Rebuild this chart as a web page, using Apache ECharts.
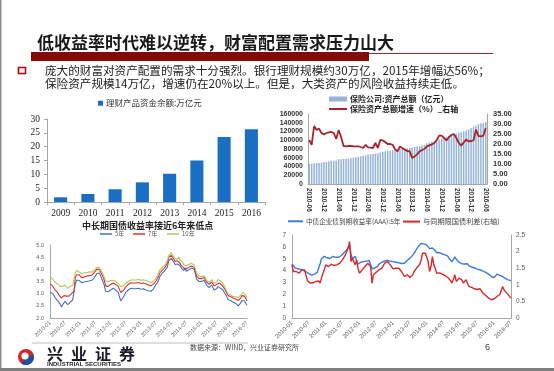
<!DOCTYPE html>
<html><head><meta charset="utf-8">
<script src="https://cdn.jsdelivr.net/npm/echarts@6/dist/echarts.min.js"></script>
<style>html,body{margin:0;padding:0;background:#fff}#c{width:554px;height:371px}</style>
</head><body><div id="c"></div><script>
// ---------- DATA ----------
const wealthYears = ['2009','2010','2011','2012','2013','2014','2015','2016'];
const wealthValues = [1.7, 2.9, 4.6, 7.1, 10.2, 15.0, 23.5, 26.3];

const insStart = [2010, 6], insEnd = [2016, 6];
const insAssets = [
  46000,46600,47200,47800,48200,48800,50500,
  51000,51600,52500,53300,53800,56500,56800,57300,57800,58300,59000,60100,
  61000,62300,63400,64300,65000,67200,67800,68400,69300,70200,71500,73500,
  75000,76200,76800,77800,78300,78600,79500,80200,80800,81600,82300,82900,
  84500,86000,87000,88500,89500,93000,95000,96500,98000,99500,101500,104000,
  106000,107500,109500,111500,113000,115000,117000,118500,120000,122500,125000,128000,
  131000,133000,137000,138500,140000,142000
];
const insGrowth = [
  22.0,19.6,29.0,27.0,27.7,25.5,24.7,
  25.5,25.8,26.0,25.5,22.5,27.0,23.5,19.0,18.8,19.0,19.0,18.8,
  18.8,18.8,18.5,18.0,19.6,18.3,18.2,18.0,20.5,18.0,22.1,21.8,
  21.0,20.0,20.0,19.6,17.4,16.3,18.8,17.8,17.2,16.5,16.3,13.0,
  13.8,14.8,16.3,17.0,17.5,18.8,19.3,19.8,20.5,22.0,24.2,24.2,
  23.0,21.8,23.5,24.5,25.0,23.0,20.5,19.2,20.8,22.2,21.3,21.5,
  21.8,27.2,24.0,23.8,24.2,28.0
];

// half-month observations, 2010-01 .. 2016-07
const bondStart = [2010, 1], bondEnd = [2016, 7];
const bond5 = [
  3.05,3.00,3.02,2.95,2.85,2.78,2.70,2.62,2.58,2.45,2.55,2.62,2.68,2.60,2.55,2.62,2.65,2.70,2.75,2.82,3.40,3.55,3.62,3.55,
  3.48,3.45,3.52,3.48,3.42,3.50,3.45,3.52,3.48,3.55,3.60,3.65,3.72,3.82,3.90,3.85,3.75,3.62,3.48,3.35,3.10,3.05,3.08,3.12,
  3.15,3.20,3.22,3.18,3.15,3.10,3.05,3.10,2.70,2.65,2.85,2.90,3.05,3.10,3.15,3.20,3.22,3.18,3.20,3.22,3.20,3.18,3.22,3.20,
  3.18,3.22,3.20,3.18,3.15,3.18,3.12,3.10,3.10,3.12,3.20,3.30,3.35,3.45,3.55,3.70,3.78,3.85,3.90,3.95,4.00,4.10,4.35,4.42,
  4.45,4.40,4.30,4.20,4.15,4.22,4.30,4.15,4.05,4.08,3.95,4.05,3.92,3.90,3.98,4.05,4.05,4.02,4.00,3.85,3.60,3.55,3.50,3.48,
  3.50,3.45,3.55,3.45,3.35,3.30,3.25,3.32,3.35,3.28,3.15,3.10,3.20,3.30,3.28,3.22,3.20,3.15,3.05,3.00,2.88,2.75,2.78,2.72,
  2.70,2.65,2.62,2.60,2.55,2.50,2.55,2.62,2.72,2.76,2.70,2.66,2.52
];
const bond7 = [
  3.40,3.35,3.32,3.25,3.15,3.10,3.05,2.95,2.92,2.82,2.88,2.92,2.98,2.90,2.85,2.90,2.95,3.00,3.05,3.10,3.65,3.78,3.85,3.78,
  3.70,3.66,3.72,3.68,3.64,3.72,3.68,3.74,3.70,3.76,3.80,3.86,3.92,4.00,4.05,4.00,3.92,3.80,3.68,3.55,3.32,3.28,3.30,3.34,
  3.38,3.42,3.44,3.40,3.38,3.34,3.30,3.32,3.05,3.00,3.12,3.16,3.28,3.32,3.38,3.42,3.45,3.42,3.44,3.46,3.44,3.42,3.46,3.44,
  3.42,3.46,3.44,3.42,3.40,3.42,3.36,3.34,3.32,3.35,3.40,3.48,3.52,3.62,3.72,3.85,3.92,3.98,4.02,4.08,4.12,4.25,4.48,4.55,
  4.58,4.52,4.42,4.32,4.28,4.35,4.40,4.25,4.15,4.18,4.05,4.12,4.02,4.00,4.08,4.12,4.14,4.10,4.08,3.95,3.72,3.66,3.62,3.60,
  3.62,3.58,3.66,3.58,3.48,3.42,3.38,3.45,3.48,3.42,3.32,3.28,3.38,3.46,3.44,3.40,3.36,3.32,3.22,3.15,3.02,2.92,2.94,2.88,
  2.86,2.82,2.80,2.78,2.76,2.72,2.75,2.82,2.92,2.96,2.90,2.86,2.70
];
const bond10 = [
  3.72,3.65,3.60,3.52,3.48,3.45,3.40,3.35,3.30,3.26,3.30,3.32,3.35,3.28,3.22,3.26,3.30,3.32,3.35,3.40,3.85,3.95,3.98,3.90,
  3.85,3.82,3.88,3.86,3.82,3.86,3.84,3.90,3.85,3.88,3.92,3.96,4.02,4.08,4.12,4.06,4.00,3.90,3.80,3.68,3.52,3.48,3.50,3.52,
  3.54,3.56,3.55,3.52,3.50,3.46,3.42,3.44,3.30,3.26,3.32,3.35,3.42,3.46,3.50,3.54,3.56,3.55,3.56,3.58,3.56,3.55,3.58,3.56,
  3.55,3.58,3.57,3.55,3.54,3.55,3.50,3.48,3.46,3.48,3.52,3.58,3.64,3.74,3.85,3.98,4.05,4.10,4.12,4.18,4.25,4.38,4.58,4.66,
  4.68,4.60,4.52,4.45,4.40,4.48,4.50,4.36,4.28,4.30,4.18,4.24,4.15,4.12,4.20,4.24,4.25,4.20,4.18,4.05,3.85,3.78,3.72,3.70,
  3.70,3.66,3.72,3.64,3.56,3.50,3.46,3.54,3.58,3.52,3.42,3.38,3.48,3.58,3.56,3.52,3.48,3.42,3.32,3.24,3.10,3.00,3.02,2.96,
  2.92,2.88,2.86,2.88,2.86,2.84,2.88,2.94,3.02,3.05,3.00,2.94,2.82
];
const aaa5 = [
  4.55,4.40,4.25,4.20,4.15,4.18,4.10,4.05,4.02,4.00,3.90,3.85,3.75,3.65,3.62,3.68,3.70,3.75,3.85,3.95,4.55,5.00,5.10,5.20,
  5.15,5.08,5.05,5.02,5.15,5.20,5.18,5.12,5.10,5.12,5.20,5.25,5.35,5.50,5.60,5.75,5.95,6.15,5.40,5.00,5.10,5.20,4.85,4.55,
  4.60,4.70,4.72,4.75,4.78,4.80,4.82,4.85,4.80,4.15,4.18,4.22,4.25,4.35,4.55,4.62,4.70,4.78,4.82,4.85,4.85,4.82,4.80,4.82,
  4.75,4.72,4.70,4.68,4.65,4.62,4.60,4.58,4.62,4.75,4.85,4.95,5.05,5.15,5.30,5.40,5.65,5.85,6.05,6.20,6.28,6.30,6.25,6.20,
  6.15,6.05,5.85,5.80,5.90,5.95,5.70,5.50,5.55,5.52,5.45,5.40,5.35,5.32,5.28,5.22,5.00,4.90,4.75,4.65,5.15,4.95,4.80,4.70,
  4.55,4.58,4.60,4.55,4.55,4.58,4.40,4.35,4.30,4.25,4.22,4.18,4.12,4.08,4.05,4.02,3.95,3.90,3.85,3.80,3.70,3.58,3.50,3.42,
  3.40,3.55,3.70,3.65,3.60,3.55,3.48,3.42,3.35,3.28,3.22,3.18,3.15
];
const spread = [
  1.60,1.40,1.42,1.40,1.38,1.35,1.40,1.45,1.42,1.45,1.40,1.12,1.08,1.05,1.02,1.06,1.05,1.10,1.15,1.12,1.05,1.20,1.35,1.45,
  1.60,1.58,1.55,1.52,1.62,1.60,1.58,1.62,1.60,1.62,1.65,1.68,1.75,1.78,1.90,1.95,2.10,2.30,1.70,1.80,1.85,1.60,1.75,1.50,
  1.35,1.40,1.45,1.50,1.55,1.58,1.65,1.62,1.55,1.05,1.30,1.32,1.38,1.40,1.45,1.48,1.50,1.55,1.65,1.62,1.70,1.68,1.60,1.55,
  1.48,1.45,1.50,1.48,1.50,1.45,1.40,1.35,1.25,1.28,1.30,1.28,1.22,1.20,1.30,1.40,1.45,1.52,1.55,1.62,1.75,1.95,1.90,1.95,
  1.98,1.70,1.40,1.55,1.85,1.60,1.50,1.35,1.38,1.36,1.38,1.32,1.30,1.28,1.25,1.22,1.18,1.12,1.05,1.00,1.30,1.10,1.15,1.20,
  1.20,1.15,1.05,1.08,1.15,1.10,0.95,0.98,0.92,0.90,0.88,0.85,0.86,0.90,0.88,0.82,0.75,0.72,0.68,0.65,0.60,0.55,0.55,0.60,
  0.58,0.62,0.65,0.66,0.70,0.72,0.95,0.85,0.80,0.75,0.70,0.65,0.60
];

// ---------- categories ----------
function pad(m){return (m<10?'0':'')+m;}
function monthCats(s,e){const c=[];let y=s[0],m=s[1];while(y<e[0]||(y===e[0]&&m<=e[1])){c.push(y+'-'+pad(m));m++;if(m>12){m=1;y++;}}return c;}
function halfMonthCats(s,e){const c=[];monthCats(s,e).forEach((d,i,a)=>{c.push(d);if(i<a.length-1)c.push(d+'/h');});return c;}
const insCats = monthCats(insStart, insEnd);
const bondCats = halfMonthCats(bondStart, bondEnd);

// ---------- CHART ----------
const CJK = '"Noto Sans CJK SC","Noto Sans",sans-serif';
const SANS = '"Liberation Sans",Arial,sans-serif';
const SERIF = '"Liberation Serif","Times New Roman",serif';
const chart = echarts.init(document.getElementById('c'), null, {renderer:'canvas'});

const axLine = {show:true, lineStyle:{color:'#a6a6a6', width:1}};
const grayTxt = '#595959';

function legend(name, left, top, w, h, size, bold, color, icon){
  return {data:[{name:name, icon:icon||'rect'}], left:left, top:top, padding:0, itemWidth:w, itemHeight:h, itemGap:0,
    selectedMode:false, textStyle:{fontFamily:CJK, fontSize:size, fontWeight:bold?'bold':'normal', color:color||'#222', padding:[0,0,0,-2]}};
}

const option = {
  animation:false,
  backgroundColor:'#fff',
  textStyle:{fontFamily:CJK},
  grid:[
    {left:47, top:119, width:218, height:83},
    {left:308, top:114, width:179, height:70},
    {left:50, top:245, width:197, height:73},
    {left:292, top:235, width:219, height:83}
  ],
  legend:[
    legend('理财产品资金余额:万亿元', 98, 99, 5, 5, 8.5, false, '#333'),
    legend('保险公司:资产总额（亿元）', 329, 95, 18, 5, 8, true, '#222'),
    legend('保险资产总额增速（%）_右轴', 329, 105, 18, 2, 8, true, '#222'),
    legend('5年', 100, 231, 12, 1.5, 6, false, grayTxt),
    legend('7年', 133, 231, 12, 1.5, 6, false, grayTxt),
    legend('10年', 167, 231, 12, 1.5, 6, false, grayTxt),
    legend('中债企业债到期收益率(AAA):5年', 288, 218, 15, 2, 6.6, false, '#444'),
    legend('与同期限国债利差(右轴)', 403, 218, 17, 2, 7.2, false, '#444')
  ],
  xAxis:[
    {gridIndex:0, type:'category', data:wealthYears, axisLine:axLine,
     axisTick:{show:true, length:3, lineStyle:{color:'#a6a6a6'}},
     axisLabel:{fontFamily:SERIF, fontSize:9.5, color:'#222', margin:6}},
    {gridIndex:1, type:'category', data:insCats, axisLine:axLine, axisTick:{show:false},
     axisLabel:{rotate:-90, interval:(i)=>i%6===0, fontFamily:SANS, fontWeight:'bold', fontSize:6.5, color:'#333', margin:4}},
    {gridIndex:2, type:'category', data:bondCats, boundaryGap:false, axisLine:axLine, axisTick:{show:false},
     axisLabel:{rotate:45, interval:(i)=>i%12===0, fontFamily:SANS, fontSize:5.5, color:grayTxt, margin:4}},
    {gridIndex:3, type:'category', data:bondCats, boundaryGap:false, axisLine:axLine, axisTick:{show:false},
     axisLabel:{rotate:45, interval:(i)=>i%12===0, fontFamily:SANS, fontSize:6, color:grayTxt, margin:4}}
  ],
  yAxis:[
    {gridIndex:0, type:'value', min:0, max:30, interval:5, axisLine:axLine,
     axisTick:{show:true, length:3, lineStyle:{color:'#a6a6a6'}}, splitLine:{show:false},
     axisLabel:{fontFamily:SERIF, fontSize:9.5, color:'#222', margin:7}},
    {gridIndex:1, type:'value', min:0, max:160000, interval:20000, axisLine:axLine, axisTick:{show:false}, splitLine:{show:false},
     axisLabel:{fontFamily:SANS, fontWeight:'bold', fontSize:7, color:'#333', margin:5, formatter:(v)=>String(v)}},
    {gridIndex:1, type:'value', position:'right', min:0, max:35, interval:5, axisLine:axLine, axisTick:{show:false}, splitLine:{show:false},
     axisLabel:{fontFamily:SANS, fontWeight:'bold', fontSize:7.5, color:'#333', margin:6, formatter:(v)=>v.toFixed(2)}},
    {gridIndex:2, type:'value', min:2, max:5, interval:0.5, axisLine:axLine, axisTick:{show:false}, splitLine:{show:false},
     axisLabel:{fontFamily:SANS, fontSize:5.5, color:grayTxt, margin:6, formatter:(v)=>v.toFixed(1)}},
    {gridIndex:3, type:'value', min:0, max:7, interval:1, axisLine:axLine, axisTick:{show:false}, splitLine:{show:false},
     axisLabel:{fontFamily:SANS, fontSize:6.5, color:grayTxt, margin:6}},
    {gridIndex:3, type:'value', position:'right', min:0, max:2.5, interval:0.5, axisLine:axLine, axisTick:{show:false}, splitLine:{show:false},
     axisLabel:{fontFamily:SANS, fontSize:6.5, color:grayTxt, margin:5}}
  ],
  series:[
    {name:'理财产品资金余额:万亿元', type:'bar', xAxisIndex:0, yAxisIndex:0, data:wealthValues, barWidth:'48%', itemStyle:{color:'#1a6fc4'}},
    {name:'保险公司:资产总额（亿元）', type:'bar', xAxisIndex:1, yAxisIndex:1, data:insAssets, barWidth:'62%', itemStyle:{color:'#95b3d7'}},
    {name:'保险资产总额增速（%）_右轴', type:'line', xAxisIndex:1, yAxisIndex:2, data:insGrowth, symbol:'none', lineStyle:{color:'#a8232b', width:1.8}, itemStyle:{color:'#a8232b'}},
    {name:'5年', type:'line', xAxisIndex:2, yAxisIndex:3, data:bond5, symbol:'none', lineStyle:{color:'#3d72c4', width:1.1}, itemStyle:{color:'#3d72c4'}},
    {name:'7年', type:'line', xAxisIndex:2, yAxisIndex:3, data:bond7, symbol:'none', lineStyle:{color:'#e0302f', width:1.1}, itemStyle:{color:'#e0302f'}},
    {name:'10年', type:'line', xAxisIndex:2, yAxisIndex:3, data:bond10, symbol:'none', lineStyle:{color:'#b3c65c', width:1.1}, itemStyle:{color:'#b3c65c'}},
    {name:'中债企业债到期收益率(AAA):5年', type:'line', xAxisIndex:3, yAxisIndex:4, data:aaa5, symbol:'none', lineStyle:{color:'#3b7dd0', width:1.4}, itemStyle:{color:'#3b7dd0'}},
    {name:'与同期限国债利差(右轴)', type:'line', xAxisIndex:3, yAxisIndex:5, data:spread, symbol:'none', lineStyle:{color:'#d9272e', width:1.4}, itemStyle:{color:'#d9272e'}}
  ],
  graphic:[
    // frame
    {type:'rect', left:0, top:0, shape:{width:1.5, height:371}, style:{fill:'#8c8c8c'}, silent:true},
    {type:'rect', left:0, top:368, shape:{width:554, height:3}, style:{fill:'#7f7f7f'}, silent:true},
    // title
    {type:'text', left:37, top:34, style:{text:'低收益率时代难以逆转，财富配置需求压力山大', fontFamily:CJK, fontSize:17, fontWeight:'bold', fill:'#1a1a1a'}},
    {type:'rect', shape:{x:31, y:52, width:338, height:9}, style:{fill:'#840a0a'}},
    {type:'line', shape:{x1:369, y1:53.5, x2:493, y2:53.5}, style:{stroke:'#9a2a2a', lineWidth:1}},
    // bullet text
    {type:'rect', shape:{x:18.5, y:67.5, width:7, height:6}, style:{fill:'none', stroke:'#c00000', lineWidth:1.6}},
    {type:'text', left:45, top:65, style:{text:'庞大的财富对资产配置的需求十分强烈。银行理财规模约30万亿，2015年增幅达56%；', fontFamily:CJK, fontSize:11.6, fill:'#222'}},
    {type:'text', left:45, top:78, style:{text:'保险资产规模14万亿，增速仍在20%以上。但是，大类资产的风险收益持续走低。', fontFamily:CJK, fontSize:11.6, fill:'#222'}},
    // bottom-left chart title
    {type:'text', left:82, top:221, style:{text:'中长期国债收益率接近6年来低点', fontFamily:CJK, fontSize:9, fontWeight:'bold', fill:'#222'}},
    // footer
    {type:'line', shape:{x1:32, y1:343, x2:248, y2:343}, style:{stroke:'#b0b0b0', lineWidth:0.8}},
    {type:'circle', shape:{cx:26, cy:357, r:8}, style:{fill:'#d5262b'}},
    {type:'sector', shape:{cx:26, cy:357, r:8, r0:0, startAngle:-0.3, endAngle:2.2}, style:{fill:'#1f4f9e'}},
    {type:'circle', shape:{cx:25, cy:356, r:3.6}, style:{fill:'#fff'}},
    {type:'text', left:47, top:346, style:{text:'兴', fontFamily:CJK, fontSize:16, fontWeight:'bold', fill:'#1c1c2a'}},
    {type:'text', left:71, top:346, style:{text:'业', fontFamily:CJK, fontSize:16, fontWeight:'bold', fill:'#1c1c2a'}},
    {type:'text', left:95, top:346, style:{text:'证', fontFamily:CJK, fontSize:16, fontWeight:'bold', fill:'#1c1c2a'}},
    {type:'text', left:119, top:346, style:{text:'券', fontFamily:CJK, fontSize:16, fontWeight:'bold', fill:'#1c1c2a'}},
    {type:'text', left:47, top:361, style:{text:'INDUSTRIAL SECURITIES', fontFamily:SANS, fontSize:6, fontWeight:'bold', fill:'#1c1c2a'}},
    {type:'text', left:190, top:344, style:{text:'数据来源：WIND，兴业证券研究所', fontFamily:CJK, fontSize:7, fill:'#444'}},
    {type:'text', left:485, top:343, style:{text:'6', fontFamily:SANS, fontSize:9, fill:'#444'}}
  ]
};
chart.setOption(option);
</script></body></html>
